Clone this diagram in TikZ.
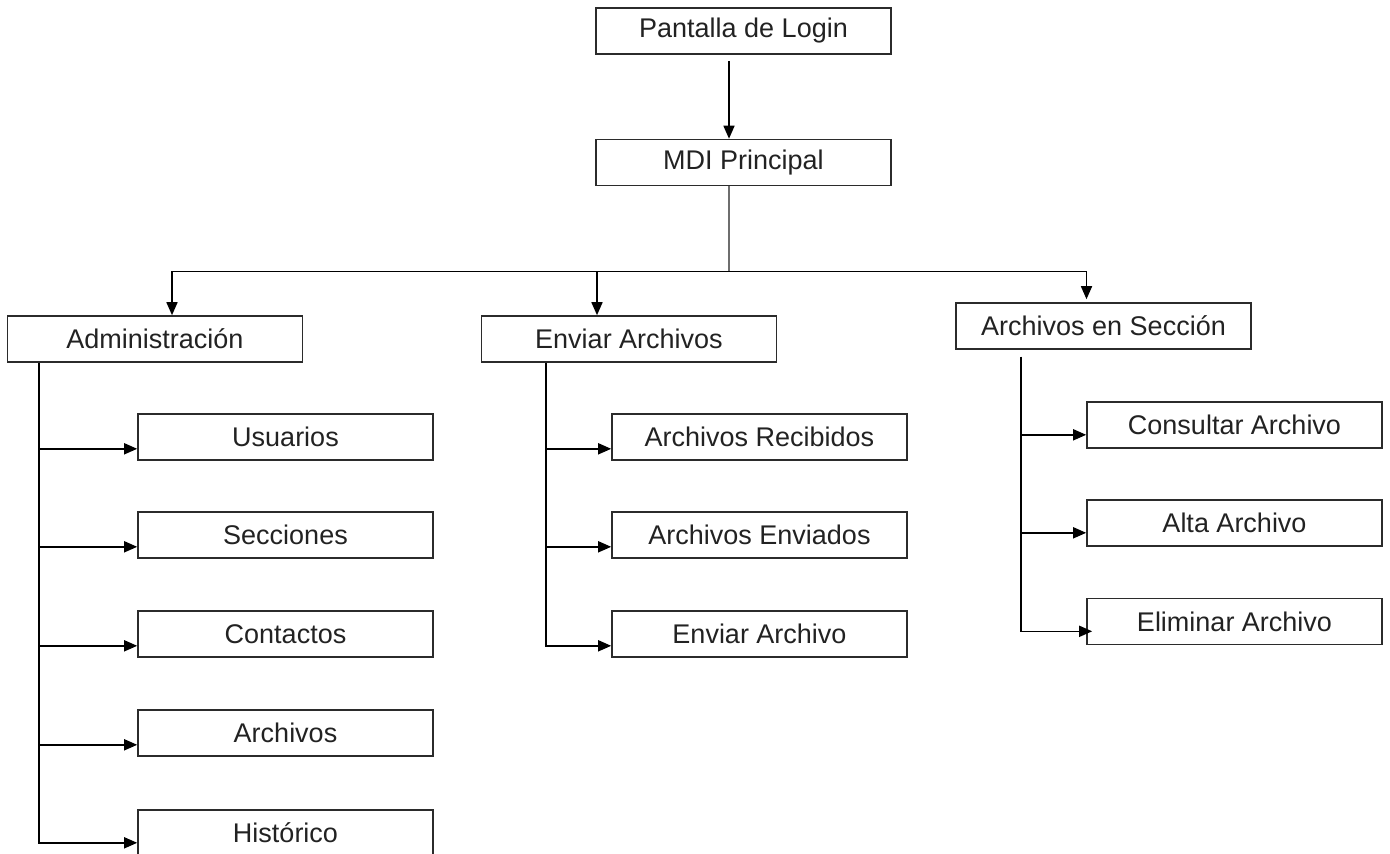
\documentclass[tikz,border=0pt]{standalone}
\usepackage{fontspec}
\setmainfont{Liberation Sans}
\usepackage{tikz}
\usetikzlibrary{arrows.meta}
\definecolor{boxline}{HTML}{2B2B2B}
\definecolor{textcol}{HTML}{222222}
\definecolor{busline}{HTML}{6E6E6E}
\tikzset{
  menuBox/.style={draw=boxline, line width=0.8pt, minimum width=147.5pt, minimum height=23pt,
    inner sep=0pt, text=textcol, font=\fontsize{13.5}{16}\selectfont},
  menuLink/.style={line width=0.8pt, -{Triangle[length=6.5pt,width=5.5pt]}},
  menuLine/.style={line width=0.8pt}
}

\begin{document}
\begin{tikzpicture}[x=0.5pt, y=-0.5pt]
  \clip (0,0) rectangle (1390,853);

  % main screens
  \node[menuBox] (login) at (743.5,31) {Pantalla de Login};
  \node[menuBox] (mdi) at (743.5,162.5) {MDI Principal};

  % modules
  \node[menuBox] (admin) at (155,339) {Administración};
  \node[menuBox] (enviar) at (629,339) {Enviar Archivos};
  \node[menuBox] (seccion) at (1103.5,326) {Archivos en Sección};

  % administracion
  \node[menuBox] (usuarios) at (285.5,437) {Usuarios};
  \node[menuBox] (secciones) at (285.5,535) {Secciones};
  \node[menuBox] (contactos) at (285.5,634) {Contactos};
  \node[menuBox] (archivos) at (285.5,733) {Archivos};
  \node[menuBox] (historico) at (285.5,833) {Histórico};

  % enviar archivos
  \node[menuBox] (recibidos) at (759.5,437) {Archivos Recibidos};
  \node[menuBox] (enviados) at (759.5,535) {Archivos Enviados};
  \node[menuBox] (envArchivo) at (759.5,634) {Enviar Archivo};

  % archivos en seccion
  \node[menuBox] (consultar) at (1234.5,425) {Consultar Archivo};
  \node[menuBox] (alta) at (1234.5,523) {Alta Archivo};
  \node[menuBox] (eliminar) at (1234.5,621.5) {Eliminar Archivo};

  % top part
  \draw[menuLink] ([xshift=-7.25pt,yshift=-3pt]login.south) -- ([xshift=-7.25pt]mdi.north);
  \coordinate (bus) at ([xshift=-7.25pt,yshift=-42.5pt]mdi.south);
  \draw[menuLine, draw=busline] ([xshift=-7.25pt]mdi.south) -- (bus);
  \draw[menuLink] (bus) -| ([xshift=8.5pt]admin.north);
  \draw[menuLink] (bus) -| ([xshift=-16pt]enviar.north);
  \draw[menuLink] (bus) -| ([xshift=-8.5pt,yshift=1.5pt]seccion.north);

  % trunks
  \coordinate (admT) at ([xshift=16pt]admin.south west);
  \coordinate (envT) at ([xshift=32.5pt]enviar.south west);
  \coordinate (secT) at ([xshift=33pt,yshift=-3.5pt]seccion.south west);

  \draw[menuLink] (admT) |- ([yshift=6pt]usuarios.south west);
  \draw[menuLink] (admT) |- ([yshift=6pt]secciones.south west);
  \draw[menuLink] (admT) |- ([yshift=6pt]contactos.south west);
  \draw[menuLink] (admT) |- ([yshift=6pt]archivos.south west);
  \draw[menuLink] (admT) |- ([yshift=7pt]historico.south west);

  \draw[menuLink] (envT) |- ([yshift=6pt]recibidos.south west);
  \draw[menuLink] (envT) |- ([yshift=6pt]enviados.south west);
  \draw[menuLink] (envT) |- ([yshift=6pt]envArchivo.south west);

  \draw[menuLink] (secT) |- ([yshift=7pt]consultar.south west);
  \draw[menuLink] (secT) |- ([yshift=7pt]alta.south west);
  \draw[menuLink] (secT) |- ([xshift=3pt,yshift=7pt]eliminar.south west);
\end{tikzpicture}
\end{document}
